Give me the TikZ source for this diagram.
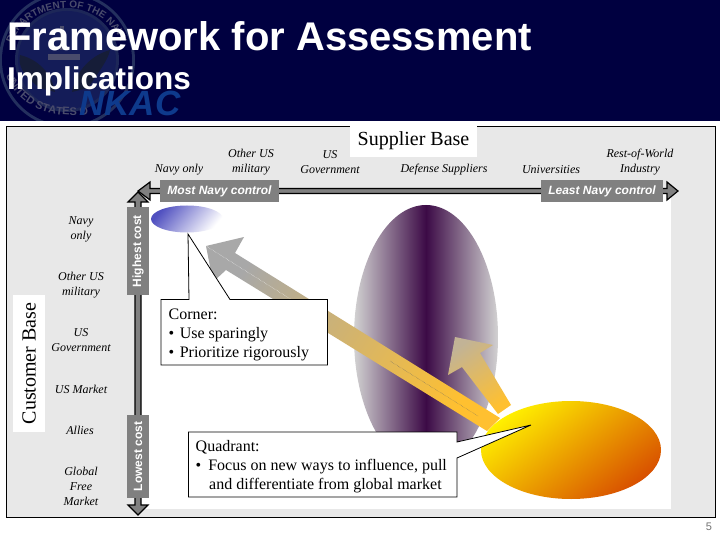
\documentclass[tikz,border=0pt]{standalone}
\usepackage{fontspec}
\setmainfont{Liberation Serif}
\newfontfamily\arialf{Liberation Sans}
\usetikzlibrary{calc,decorations.text,shadings}
\definecolor{navybg}{HTML}{000040}
\definecolor{panel}{HTML}{E8E8E8}
\definecolor{axisgray}{HTML}{808080}
\definecolor{sealc}{HTML}{24305E}
\definecolor{sealin}{HTML}{141C58}
\definecolor{sealtx}{HTML}{4A4C6C}
\definecolor{nkacblue}{HTML}{0E3A8C}
\definecolor{sidegray}{HTML}{D2D2D2}
\definecolor{plum}{HTML}{3C0A46}
\definecolor{tipgray}{HTML}{A8A8A8}
\definecolor{tailgold}{HTML}{FFC030}
\definecolor{midtan}{HTML}{CDB88E}
\definecolor{sunred}{HTML}{D85000}
\definecolor{sunyellow}{HTML}{FFF000}
\definecolor{sunmid}{HTML}{E8B400}
\definecolor{skyblue}{HTML}{5050C0}
\definecolor{skypale}{HTML}{D4D4F4}
\tikzset{
  x=1pt,y=-1pt,
  small/.style={font=\fontsize{12}{15}\selectfont\itshape,align=center,inner sep=0pt,text=black},
  tag/.style={fill=axisgray,text=white,font=\arialf\bfseries\itshape\fontsize{12}{13}\selectfont,inner sep=0pt,minimum height=22,anchor=center},
  vtag/.style={fill=axisgray,text=white,font=\arialf\bfseries\fontsize{12}{13}\selectfont,inner sep=0pt,minimum height=22,anchor=center,rotate=90},
  basehead/.style={fill=white,font=\fontsize{20}{22}\selectfont,inner sep=0pt,text=black},
  call/.style={draw=black,fill=white,line width=.8pt},
  calltext/.style={font=\fontsize{16}{19}\selectfont,align=left,inner sep=0pt,anchor=north west,text=black},
  axisbody/.style={fill=axisgray,draw=black,line width=1.2pt,line join=miter},
}
\begin{document}
\begin{tikzpicture}
\useasboundingbox (0,0) rectangle (720,540);
\fill[white] (0,0) rectangle (720,540);
% banner
\fill[navybg] (0,0) rectangle (720,121);
\begin{scope}
\clip (0,0) rectangle (720,121);
\coordinate (seal) at (67,60);
\fill[sealc] (seal) circle (68);
\fill[navybg] (seal) circle (65);
\fill[sealc!80!navybg] (seal) circle (52);
\fill[sealin] (seal) circle (49);
\fill[sealc!60!black] (40,88) .. controls (22,75) and (18,65) .. (20,55) .. controls (40,60) and (52,75) .. (55,92) -- cycle;
\fill[sealc!60!black] (88,88) .. controls (100,70) and (108,60) .. (110,50) .. controls (92,55) and (76,70) .. (72,92) -- cycle;
\fill[sealtx] (48,54) rectangle (80,60);
\fill[sealtx] (60,26) rectangle (64,50);
\path[decorate,decoration={text along path,text align=center,text={|\arialf\bfseries\fontsize{10}{10}\selectfont\color{sealtx}|DEPARTMENT OF THE NAVY}}]
  (10,62) .. controls (8,30) and (35,8) .. (67,8) .. controls (99,8) and (124,30) .. (124,62);
\path[decorate,decoration={text along path,text align=center,text={|\arialf\bfseries\fontsize{11}{11}\selectfont\color{sealtx}|UNITED STATES OF}}]
  (8,80) .. controls (20,106) and (50,120) .. (90,114);
\node[anchor=base west,inner sep=0pt,font=\arialf\bfseries\itshape\fontsize{35}{35}\selectfont,text=nkacblue] (nkac) at (79,116) {NKAC};
\end{scope}
\node[anchor=base west,inner sep=0pt,font=\arialf\bfseries\fontsize{40}{42}\selectfont,text=white] (title) at (7,51) {Framework for Assessment};
\node[anchor=base west,inner sep=0pt,font=\arialf\bfseries\fontsize{31.5}{34}\selectfont,text=white] (subtitle) at (7,90) {Implications};
% panel
\draw[fill=panel,draw=black,line width=.9pt] (6.5,126.5) rectangle (715,517);
\fill[white] (141,191) rectangle (671,509);
% ellipses
\shade[left color=sidegray,right color=sidegray,middle color=plum] (426,337) ellipse [x radius=72,y radius=132];
\shade[left color=skyblue,middle color=skypale,right color=white,shading angle=50] (187,219) ellipse [x radius=36,y radius=13.5];
% block arrows
\shade[left color=tipgray,middle color=midtan,right color=tailgold,shading angle=58]
  (206,246) -- (244,237) -- (235,253) -- (500,418) -- (487,431) -- (226,270) -- (213,282) -- cycle;
\draw[white,densely dotted,line width=.4pt] (206,246) -- (300,305);
\draw[black!60,densely dotted,line width=.4pt] (390,361) -- (478,416);
\shade[left color=midtan!70!tipgray,right color=tailgold,shading angle=35]
  (455,337) -- (493,345) -- (480,353) -- (511,405) -- (498,414) -- (462,367) -- (448,375) -- cycle;
\shade[left color=sunyellow,middle color=sunmid,right color=sunred,shading angle=38] (571,450) ellipse [x radius=90,y radius=49];
% axes
\coordinate (axisO) at (138,191);
\coordinate (axisR) at (678,191);
\coordinate (axisB) at (138,515);
\draw[axisbody] (axisO) -- ++(12,-9) -- ++(0,6.5) -- ($(axisR)+(-11,-2.5)$) -- ++(0,-6.5) -- (axisR) -- ++(-11,9) -- ++(0,-6.5) -- ($(axisO)+(12,2.5)$) -- ++(0,6.5) -- cycle;
\draw[axisbody] ($(axisO)+(0,1)$) -- ++(-10,10) -- ++(7,0) -- ($(axisB)+(-3,-10)$) -- ++(-7,0) -- (axisB) -- ++(10,-10) -- ++(-7,0) -- ($(axisO)+(3,11)$) -- ++(7,0) -- cycle;
% axis tags
\node[tag,minimum width=119] (most) at (219.5,191) {Most Navy control};
\node[tag,minimum width=122] (least) at (602,191) {Least Navy control};
\node[vtag,minimum width=88] (high) at (138,251) {Highest cost};
\node[vtag,minimum width=83] (low) at (138,456.5) {Lowest cost};
% headings
\node[basehead,minimum width=127,minimum height=32] (supplier) at (413.5,141) {Supplier Base};
\node[basehead,rotate=90,minimum width=137,minimum height=32] (customer) at (29,363.5) {Customer Base};
% supplier labels
\node[small] (s1) at (179,170) {Navy only};
\node[small] (s2) at (251,162.5) {Other US\\military};
\node[small] (s3) at (330,162.5) {US\\Government};
\node[small] (s4) at (444,170) {Defense Suppliers};
\node[small] (s5) at (551,170) {Universities};
\node[small] (s6) at (640,162.5) {Rest-of-World\\Industry};
% customer labels
\node[small] (c1) at (81,229.5) {Navy\\only};
\node[small] (c2) at (81,285) {Other US\\military};
\node[small] (c3) at (81,340) {US\\Government};
\node[small] (c4) at (81,389) {US Market};
\node[small] (c5) at (80,430) {Allies};
\node[small] (c6) at (81,486.5) {Global\\Free\\Market};
% callouts
\coordinate (tipC) at (188,234);
\coordinate (tipQ) at (531,425);
\draw[call] (161,299.5) -- (189,299.5) -- (tipC) -- (230,299.5) -- (327.5,299.5) -- (327.5,365) -- (161,365) -- cycle;
\node[calltext] (ctext) at (168.5,308.5) {Corner:\\\textbullet\hspace{5.5pt}Use sparingly\\\textbullet\hspace{5.5pt}Prioritize rigorously};
\draw[call] (188.5,432) -- (457,432) -- (457,442) -- (tipQ) -- (457,458) -- (457,497) -- (188.5,497) -- cycle;
\node[calltext] (qtext) at (195.5,440) {Quadrant:\\\textbullet\hspace{7pt}Focus on new ways to influence, pull\\\hspace{13.5pt}and differentiate from global market};
\node[inner sep=0pt,text=black!55,font=\arialf\fontsize{11}{13}\selectfont] (page) at (709,526.5) {5};
\end{tikzpicture}
\end{document}
